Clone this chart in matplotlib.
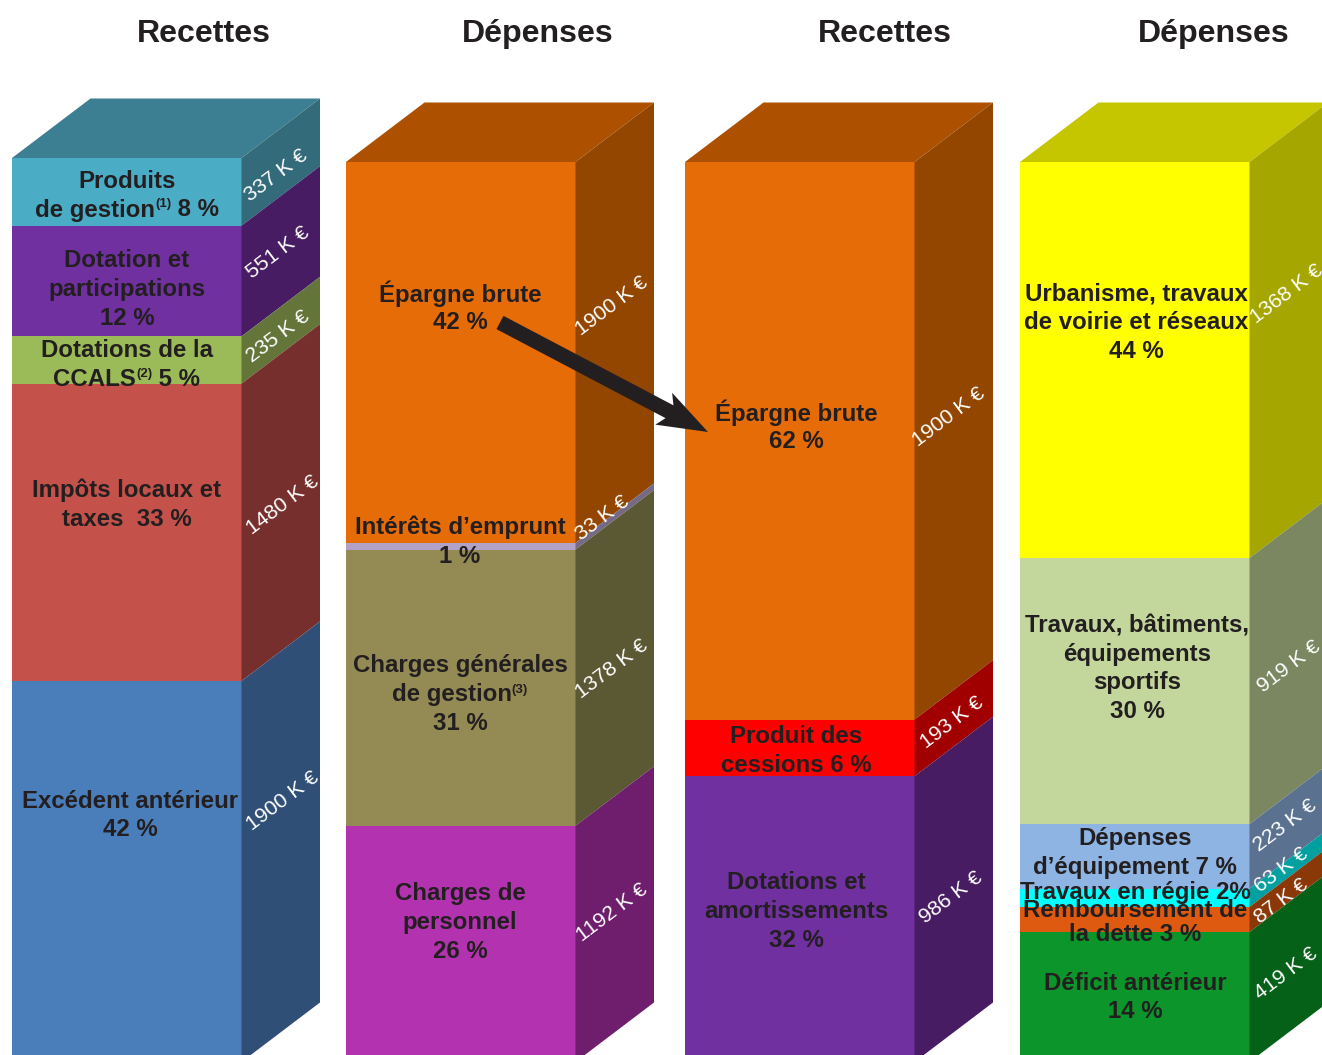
import matplotlib
matplotlib.use("Agg")
import matplotlib.pyplot as plt
import numpy as np

plt.rcParams['font.family'] = ['Liberation Sans', 'DejaVu Sans']

# data, top of the stack first, K EUR
recettes1_values = [337, 551, 235, 1480, 1900]
depenses1_values = [1900, 33, 1378, 1192]
recettes2_values = [1900, 193, 986]
depenses2_values = [1368, 919, 223, 63, 87, 419]

recettes1_front = ['#4BACC6', '#7030A0', '#9BBB59', '#C4524B', '#4A7EBB']
recettes1_side = ['#336B7B', '#471C63', '#64753A', '#772F2E', '#304F77']
depenses1_front = ['#E66C07', '#B3A2C7', '#948A54', '#B232B0']
depenses1_side = ['#934600', '#756A85', '#5B5834', '#6E1E6D']
recettes2_front = ['#E66C07', '#FF0000', '#7030A0']
recettes2_side = ['#934600', '#A00000', '#471C63']
depenses2_front = ['#FFFF00', '#C3D69B', '#8EB4E3', '#00FFFF', '#DD5A10', '#0B952A']
depenses2_side = ['#A6A600', '#7A8760', '#5A7190', '#00A0A0', '#8A3808', '#056018']

top_colors = ['#3D7F92', '#AD5000', '#AD5000', '#C6C600']
titles = ['Recettes', 'Dépenses', 'Recettes', 'Dépenses']

# layout in pixels of the picture
W, H = 1322, 1055
DX, DY = 78.5, 59.5
BOTTOM = 1062
TEXT = '#231F20'

fig = plt.figure(figsize=(W / 100, H / 100), dpi=100)
ax = fig.add_axes([0, 0, 1, 1])
ax.set_xlim(0, W)
ax.set_ylim(H, 0)
ax.axis('off')

columns = [
    (recettes1_values, recettes1_front, recettes1_side, 12, 158, 0.2009, 203),
    (depenses1_values, depenses1_front, depenses1_side, 346, 162, 0.2005, 537),
    (recettes2_values, recettes2_front, recettes2_side, 685, 162, 0.2935, 884),
    (depenses2_values, depenses2_front, depenses2_side, 1020, 162, 0.2895, 1213),
]

WIDTH = 229.5
for c, (values, front, side, x0, top, scale, title_x) in enumerate(columns):
    x1 = x0 + WIDTH
    # top face
    ax.fill([x0, x1, x1 + DX, x0 + DX], [top, top, top - DY, top - DY],
            color=top_colors[c], lw=0)
    y = top
    for i, v in enumerate(values):
        h = v * scale
        if i == len(values) - 1:
            h = BOTTOM - y  # the last block runs past the crop
        ax.bar(x0, h, bottom=y, width=WIDTH, align='edge', color=front[i], lw=0)
        ax.fill([x1, x1 + DX, x1 + DX, x1],
                [y, y - DY, y + h - DY, y + h], color=side[i], lw=0)
        y += h
    ax.text(title_x + 1, 34, titles[c], ha='center', va='center',
            fontsize=23.15, fontweight='bold', color=TEXT)

# side labels, one per block
side_x = [
    [276, 278, 278, 283, 283],
    [612, 602, 612, 612],
    [949, 952, 951],
    [1287, 1289, 1285, 1281, 1281, 1286],
]
side_y = [
    [176, 253, 337, 505, 801],
    [306, 518, 669, 913],
    [417, 723, 898],
    [294, 667, 826, 870, 901, 974],
]
for c, col in enumerate(columns):
    for i, v in enumerate(col[0]):
        ax.text(side_x[c][i], side_y[c][i], f'{v} K €', color='white',
                fontsize=15.3, rotation=37, ha='center', va='center',
                rotation_mode='anchor')

# arrow from one column to the next
start = np.array([500, 322.5])
tip = np.array([708, 432])
u = (tip - start) / np.linalg.norm(tip - start)
n = np.array([-u[1], u[0]])
arrow = np.array([
    start - 7.5 * n, tip - 43 * u - 7.5 * n, tip - 50 * u - 18 * n, tip,
    tip - 50 * u + 18 * n, tip - 44 * u + 7.5 * n, start + 7.5 * n,
])
ax.fill(arrow[:, 0], arrow[:, 1], color=TEXT, lw=0)

# front labels, line by line
labels = [
    (127, 180, 'Produits'),
    (127, 259, 'Dotation et'), (127, 288, 'participations'), (127, 317, '12 %'),
    (127, 349, 'Dotations de la'),
    (127, 489, 'Impôts locaux et'), (127, 518, 'taxes  33 %'),
    (130, 800, 'Excédent antérieur'), (130, 828, '42 %'),
    (460, 292, 'Épargne brute'), (460, 321, '42 %'),
    (460, 526, 'Intérêts d’emprunt'), (460, 555, '1 %'),
    (460, 664, 'Charges générales'), (460, 722, '31 %'),
    (460, 892, 'Charges de'), (460, 921, 'personnel'), (460, 950, '26 %'),
    (796, 411, 'Épargne brute'), (796, 440, '62 %'),
    (796, 735, 'Produit des'), (796, 764, 'cessions 6 %'),
    (796, 881, 'Dotations et'), (796, 910, 'amortissements'), (796, 939, '32 %'),
    (1136, 292, 'Urbanisme, travaux'), (1136, 321, 'de voirie et réseaux'), (1136, 350, '44 %'),
    (1137, 624, 'Travaux, bâtiments,'), (1137, 653, 'équipements'),
    (1137, 681, 'sportifs'), (1137, 710, '30 %'),
    (1135, 837, 'Dépenses'), (1135, 866, 'd’équipement 7 %'),
    (1135, 891, 'Travaux en régie 2%'), (1135, 909, 'Remboursement de'), (1135, 933, 'la dette 3 %'),
    (1135, 982, 'Déficit antérieur'), (1135, 1010, '14 %'),
]
for lx, ly, s in labels:
    ax.text(lx, ly + 1.5, s, ha='center', va='center', fontsize=17.26,
            fontweight='bold', color=TEXT)

# lines with a footnote mark: before, mark, after
note_lines = [
    (127, 208, 'de gestion', '(1)', ' 8 %'),
    (127, 377, 'CCALS', '(2)', ' 5 %'),
    (460, 693, 'de gestion', '(3)', ''),
]
renderer = fig.canvas.get_renderer()


def text_width(s, size):
    # trailing/leading spaces count, so measure between two dots
    t = ax.text(0, 0, '.' + s + '.', fontsize=size, fontweight='bold')
    w = t.get_window_extent(renderer).width
    t.set_text('..')
    w -= t.get_window_extent(renderer).width
    t.remove()
    return w


for lx, ly, before, mark, after in note_lines:
    sizes = [17.26, 9.5, 17.26]
    parts = [before, mark, after]
    widths = [text_width(p, sz) for p, sz in zip(parts, sizes)]
    x = lx - sum(widths) / 2
    base = ly + 8.5
    for p, sz, w in zip(parts, sizes, widths):
        ax.text(x, base - 9 if sz < 10 else base, p.replace(' ', '\u00a0'),
                ha='left', va='baseline', fontsize=sz, fontweight='bold', color=TEXT)
        x += w

fig.savefig('out.png', dpi=100)
